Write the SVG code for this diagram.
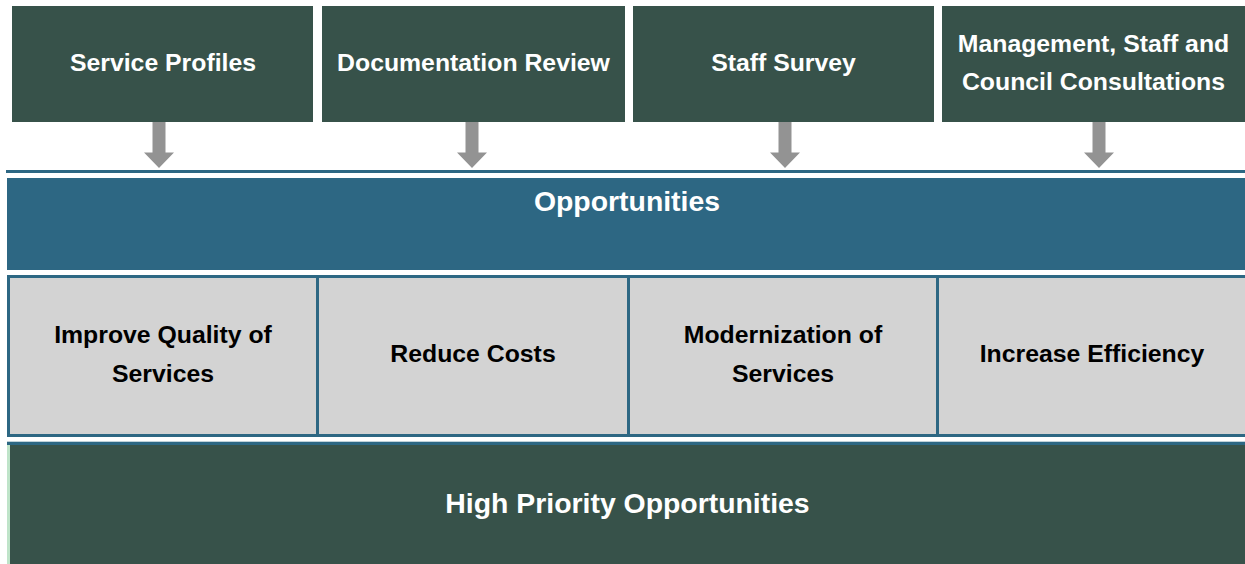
<svg xmlns="http://www.w3.org/2000/svg" width="1245" height="564" viewBox="0 0 1245 564">
<style>
.src{fill:#37524A}
.lbl{font-family:"Liberation Sans",Arial,sans-serif;font-weight:bold;text-anchor:middle}
.w{fill:#FFFFFF}
.k{fill:#000000}
.t25{font-size:24.8px}
.t28{font-size:28.4px}
.teal{fill:#2D6783}
.arrow{fill:#939393}
.div{stroke:#2D6783;stroke-width:3}
</style>
<rect width="1245" height="564" fill="#FFFFFF"/>

<g id="node-service-profiles">
<rect class="src" x="12" y="6" width="301" height="116"/>
<text class="lbl w t25" x="163" y="71">Service Profiles</text>
</g>
<g id="node-documentation-review">
<rect class="src" x="322" y="6" width="303" height="116"/>
<text class="lbl w t25" x="473.5" y="71">Documentation Review</text>
</g>
<g id="node-staff-survey">
<rect class="src" x="633" y="6" width="301" height="116"/>
<text class="lbl w t25" x="783.5" y="71">Staff Survey</text>
</g>
<g id="node-consultations">
<rect class="src" x="942" y="6" width="303" height="116"/>
<text class="lbl w t25" x="1093.5" y="52">Management, Staff and</text>
<text class="lbl w t25" x="1093.5" y="90">Council Consultations</text>
</g>

<g id="connectors">
<path class="arrow" d="M152.5,122 H165.5 V152.5 H174 L159,168 L144,152.5 H152.5 Z"/>
<path class="arrow" d="M465.5,122 H478.5 V152.5 H487 L472,168 L457,152.5 H465.5 Z"/>
<path class="arrow" d="M778.5,122 H791.5 V152.5 H800 L785,168 L770,152.5 H778.5 Z"/>
<path class="arrow" d="M1092.5,122 H1105.5 V152.5 H1114 L1099,168 L1084,152.5 H1092.5 Z"/>
</g>

<g id="node-opportunities">
<rect class="teal" x="6" y="170" width="1239" height="3"/>
<rect class="teal" x="7" y="178" width="1238" height="92"/>
<text class="lbl w t28" x="627" y="211">Opportunities</text>
</g>

<g id="node-categories">
<rect x="8.5" y="276.5" width="1240" height="159" fill="#D3D3D3" stroke="#2D6783" stroke-width="3"/>
<line class="div" x1="317.5" y1="276" x2="317.5" y2="436"/>
<line class="div" x1="628.5" y1="276" x2="628.5" y2="436"/>
<line class="div" x1="937.5" y1="276" x2="937.5" y2="436"/>
</g>
<g id="node-improve-quality">
<text class="lbl k t25" x="163" y="343">Improve Quality of</text>
<text class="lbl k t25" x="163" y="382">Services</text>
</g>
<g id="node-reduce-costs">
<text class="lbl k t25" x="473" y="362">Reduce Costs</text>
</g>
<g id="node-modernization">
<text class="lbl k t25" x="783" y="343">Modernization of</text>
<text class="lbl k t25" x="783" y="382">Services</text>
</g>
<g id="node-increase-efficiency">
<text class="lbl k t25" x="1092" y="362">Increase Efficiency</text>
</g>

<g id="node-high-priority">
<rect class="teal" x="7" y="441.7" width="1238" height="3.3"/>
<rect class="src" x="7" y="445" width="1238" height="119"/>
<rect x="7" y="445" width="3" height="119" fill="#BFE4C9"/>
<text class="lbl w t28" x="627.5" y="513">High Priority Opportunities</text>
</g>
</svg>
